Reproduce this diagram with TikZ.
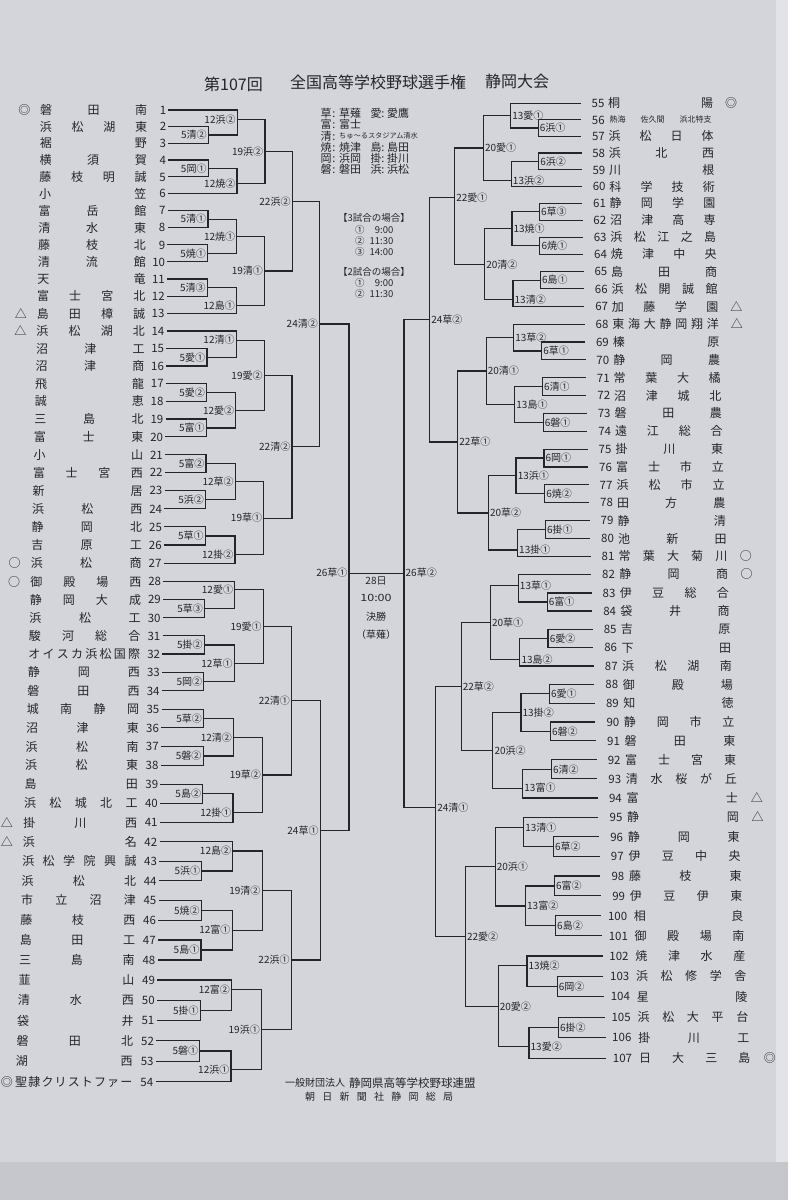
\documentclass[tikz,border=0pt]{standalone}
\usepackage{fontspec}
\usepackage{graphicx}
\setmainfont{Noto Sans CJK JP}
\usetikzlibrary{calc}
\definecolor{paper}{RGB}{212,213,218}
\definecolor{paperlight}{RGB}{226,227,231}
\definecolor{paperdark}{RGB}{198,199,204}
\definecolor{ink}{RGB}{36,36,42}
\newcommand\sprdloop[1]{\ifx\relax#1\else#1\expandafter\sprdnext\fi}
\newcommand\sprdnext[1]{\ifx\relax#1\else\hfill#1\expandafter\sprdnext\fi}
\newcommand\sprd[2]{\makebox[#1][s]{\expandafter\sprdloop#2\relax}}
% match: name, childA, childB, u, label, dy, anchor, label offset
\newcommand\mt[8]{%
  \path let \p1=(#2),\p2=(#3),\n1={(\y1+\y2)/2+(#6)},\n2={X(#4,0-(\n1))} in
    coordinate (#1) at (\n2,\n1)
    node[lbl,anchor=#7] at ({\n2+(#8)},\n1) {#5};
  \draw[br] let \p1=(#2),\p2=(#3),\p3=(#1) in (#2) -- (\x3,\y1) -- (\x3,\y2) -- (#3);
}
\newcommand\mL[6]{\mt{#1}{#2}{#3}{#4}{#5}{#6}{east}{-1.5}}
\newcommand\mR[6]{\mt{#1}{#2}{#3}{#4}{#5}{#6}{west}{1.5}}
\tikzset{
  br/.style={draw=ink,line width=1.2pt,line join=miter},
  lbl/.style={font=\fontsize{10}{10}\selectfont,text=ink,inner sep=0pt,text height=7.6pt,text depth=0pt},
  num/.style={font=\fontsize{11.5}{11.5}\selectfont,text=ink,inner sep=0pt,text height=8.6pt,text depth=0pt},
  nm/.style={font=\fontsize{12}{12}\selectfont,text=ink,inner sep=0pt,text height=9.1pt,text depth=0pt},
  tiny/.style={font=\fontsize{8}{8}\selectfont,text=ink,inner sep=0pt,text height=6.1pt,text depth=0pt},
  lg/.style={font=\fontsize{11}{11}\selectfont,text=ink,inner sep=0pt,text height=8.4pt,text depth=0pt},
  lgs/.style={font=\fontsize{7.2}{7.2}\selectfont,text=ink,inner sep=0pt,text height=5.5pt,text depth=0pt},
  sm/.style={font=\fontsize{9.5}{9.5}\selectfont,text=ink,inner sep=0pt,text height=7.2pt,text depth=0pt},
  fin/.style={font=\fontsize{10}{10}\selectfont,text=ink,inner sep=0pt,text height=7.6pt,text depth=0pt},
  ttl/.style={font=\fontsize{16}{16}\selectfont,text=ink,inner sep=0pt,text height=12.2pt,text depth=0pt},
  fta/.style={font=\fontsize{10}{10}\selectfont,text=ink,inner sep=0pt,text height=7.6pt,text depth=0pt},
  ftb/.style={font=\fontsize{11.5}{11.5}\selectfont,text=ink,inner sep=0pt,text height=8.7pt,text depth=0pt},
}
\begin{document}
\begin{tikzpicture}[x=1pt,y=1pt,
  declare function={
    kf(\qa)=0.094*(max(\qa-100,0.5)/980)^1.3;
    X(\qa,\qb)=\qa+(\qa-305)*kf(\qb);
    YL(\qa)=93.46+16.506*\qa+0.03323*\qa*\qa-3.5*max(0,sin(180*(\qa-28)/26))*(\qa>28);
    YR(\qa)=86.88+16.386*\qa+0.03665*\qa*\qa+2*max(0,sin(180*(\qa-12)/16))*(\qa<28)-3*max(0,sin(180*(\qa-29)/24))*(\qa>29);
  }]
\useasboundingbox (0,0) rectangle (788,-1200);
\fill[paper] (0,0) rectangle (788,-1200);
\fill[paperlight] (776,0) rectangle (788,-1162);
\fill[paperdark] (0,-1162) rectangle (788,-1200);

% ---------- title ----------
\node[ttl,anchor=west] (t1) at (204,-84) {第107回};
\node[ttl,anchor=west] (t2) at (290,-82.7) {全国高等学校野球選手権};
\node[ttl,anchor=west] (t3) at (485,-81.2) {静岡大会};

% ---------- left teams ----------
\foreach \i/\tNm/\tSy in {1/磐田南/◎,2/浜松湖東/{},3/裾野/{},4/横須賀/{},5/藤枝明誠/{},6/小笠/{},7/富岳館/{},8/清水東/{},9/藤枝北/{},10/清流館/{},11/天竜/{},12/富士宮北/{},13/島田樟誠/△,14/浜松湖北/△,15/沼津工/{},16/沼津商/{},17/飛龍/{},18/誠恵/{},19/三島北/{},20/富士東/{},21/小山/{},22/富士宮西/{},23/新居/{},24/浜松西/{},25/静岡北/{},26/吉原工/{},27/浜松商/○,28/御殿場西/○,29/静岡大成/{},30/浜松工/{},31/駿河総合/{},32/オイスカ浜松国際/{},33/静岡西/{},34/磐田西/{},35/城南静岡/{},36/沼津東/{},37/浜松南/{},38/浜松東/{},39/島田/{},40/浜松城北工/{},41/掛川西/△,42/浜名/△,43/浜松学院興誠/{},44/浜松北/{},45/市立沼津/{},46/藤枝西/{},47/島田工/{},48/三島南/{},49/韮山/{},50/清水西/{},51/袋井/{},52/磐田北/{},53/湖西/{},54/聖隷クリストファー/◎}{
  \pgfmathsetmacro\tY{YL(\i)}
  \pgfmathsetmacro\tXa{X(168.5,\tY)}
  \coordinate (L\i) at (\tXa,-\tY);
  \pgfmathsetmacro\tXb{X(166.5,\tY)}
  \node[num,anchor=east] (nL\i) at (\tXb,-\tY) {\i};
  \pgfmathsetmacro\tXl{X(40,\tY)}
  \pgfmathsetmacro\tW{X(147,\tY)-\tXl}
  \node[nm,anchor=west] (sL\i) at (\tXl,-\tY) {\sprd{\tW pt}{\tNm}};
  \pgfmathsetmacro\tXs{max(X(24.5,\tY),7)}
  \node[nm] (yL\i) at (\tXs,-\tY) {\tSy};
}

% ---------- right teams ----------
\foreach \k/\tNm/\tSy in {55/桐陽/◎,57/浜松日体/{},58/浜北西/{},59/川根/{},60/科学技術/{},61/静岡学園/{},62/沼津高専/{},63/浜松江之島/{},64/焼津中央/{},65/島田商/{},66/浜松開誠館/{},67/加藤学園/△,68/東海大静岡翔洋/△,69/榛原/{},70/静岡農/{},71/常葉大橘/{},72/沼津城北/{},73/磐田農/{},74/遠江総合/{},75/掛川東/{},76/富士市立/{},77/浜松市立/{},78/田方農/{},79/静清/{},80/池新田/{},81/常葉大菊川/○,82/静岡商/○,83/伊豆総合/{},84/袋井商/{},85/吉原/{},86/下田/{},87/浜松湖南/{},88/御殿場/{},89/知徳/{},90/静岡市立/{},91/磐田東/{},92/富士宮東/{},93/清水桜が丘/{},94/富士/△,95/静岡/△,96/静岡東/{},97/伊豆中央/{},98/藤枝東/{},99/伊豆伊東/{},100/相良/{},101/御殿場南/{},102/焼津水産/{},103/浜松修学舎/{},104/星陵/{},105/浜松大平台/{},106/掛川工/{},107/日大三島/◎}{
  \pgfmathsetmacro\tY{YR(\k-54)}
  \ifnum\k>99 \def\tNx{587}\def\tLx{611}\else\def\tNx{591.5}\def\tLx{608}\fi
  \pgfmathsetmacro\tXa{X(581,\tY)}
  \coordinate (R\k) at (\tXa,-\tY);
  \pgfmathsetmacro\tXb{X(\tNx,\tY)}
  \node[num,anchor=west] (nR\k) at (\tXb,-\tY) {\k};
  \pgfmathsetmacro\tXl{X(\tLx,\tY)}
  \pgfmathsetmacro\tW{X(713,\tY)-\tXl}
  \node[nm,anchor=west] (sR\k) at (\tXl,-\tY) {\sprd{\tW pt}{\tNm}};
  \pgfmathsetmacro\tXs{X(731,\tY)}
  \node[nm] (yR\k) at (\tXs,-\tY) {\tSy};
}
% row 56 (combined team)
\pgfmathsetmacro\tY{YR(2)}
\pgfmathsetmacro\tXa{X(581,\tY)}
\coordinate (R56) at (\tXa,-\tY);
\pgfmathsetmacro\tXb{X(591.5,\tY)}
\node[num,anchor=west] (nR56) at (\tXb,-\tY) {56};
\node[tiny,anchor=west] (sR56) at (609.5,-\tY) {\makebox[102pt][s]{熱海\hfill 佐久間\hfill 浜北特支}};

% ---------- left bracket ----------
\mL{a1}{L2}{L3}{208.5}{5清②}{0}
\mL{a2}{L1}{a1}{237.3}{12浜②}{3}
\mL{a3}{L4}{L5}{208.5}{5岡①}{0}
\mL{a4}{a3}{L6}{237.3}{12焼②}{-2.5}
\mL{a5}{a2}{a4}{265}{19浜②}{0}
\mL{a6}{L7}{L8}{208.5}{5清①}{0}
\mL{a7}{L9}{L10}{208.5}{5焼①}{0}
\mL{a8}{a6}{a7}{237.3}{12焼①}{0}
\mL{a9}{L11}{L12}{208.5}{5清③}{0}
\mL{a10}{a9}{L13}{237.3}{12島①}{-5}
\mL{a11}{a8}{a10}{265}{19清①}{0}
\mL{a12}{a5}{a11}{292.3}{22浜②}{10}
\mL{b1}{L15}{L16}{208.5}{5愛①}{0}
\mL{b2}{L14}{b1}{237.3}{12清①}{4}
\mL{b3}{L17}{L18}{208.5}{5愛②}{0}
\mL{b4}{L19}{L20}{208.5}{5富①}{0}
\mL{b5}{b3}{b4}{237.3}{12愛②}{0}
\mL{b6}{b2}{b5}{265}{19愛②}{0}
\mL{b7}{L21}{L22}{208.5}{5富②}{0}
\mL{b8}{L23}{L24}{208.5}{5浜②}{0}
\mL{b9}{b7}{b8}{237.3}{12草②}{0}
\mL{b10}{L25}{L26}{208.5}{5草①}{0}
\mL{b11}{b10}{L27}{237.3}{12掛②}{-5}
\mL{b12}{b9}{b11}{265}{19草①}{0}
\mL{b13}{b6}{b12}{292.3}{22清②}{0}
\mL{b14}{a12}{b13}{319.3}{24清②}{0}
\mL{c1}{L29}{L30}{208.5}{5草③}{0}
\mL{c2}{L28}{c1}{237.3}{12愛①}{5.5}
\mL{c3}{L31}{L32}{208.5}{5掛②}{0}
\mL{c4}{L33}{L34}{208.5}{5岡②}{0}
\mL{c5}{c3}{c4}{237.3}{12草①}{0}
\mL{c6}{c2}{c5}{265}{19愛①}{0}
\mL{c7}{L35}{L36}{208.5}{5草②}{0}
\mL{c8}{L37}{L38}{208.5}{5磐②}{0}
\mL{c9}{c7}{c8}{237.3}{12清②}{0}
\mL{c10}{L39}{L40}{208.5}{5島②}{0}
\mL{c11}{c10}{L41}{237.3}{12掛①}{-4.5}
\mL{c12}{c9}{c11}{265}{19草②}{0}
\mL{c13}{c6}{c12}{292.3}{22清①}{0}
\mL{d1}{L43}{L44}{208.5}{5浜①}{0}
\mL{d2}{L42}{d1}{237.3}{12島②}{5.5}
\mL{d3}{L45}{L46}{208.5}{5焼②}{0}
\mL{d4}{L47}{L48}{208.5}{5島①}{0}
\mL{d5}{d3}{d4}{237.3}{12富①}{0}
\mL{d6}{d2}{d5}{265}{19清②}{0}
\mL{d7}{L50}{L51}{208.5}{5掛①}{0}
\mL{d8}{L49}{d7}{237.3}{12富②}{6}
\mL{d9}{L52}{L53}{208.5}{5磐①}{0}
\mL{d10}{d9}{L54}{237.3}{12浜①}{-3}
\mL{d11}{d8}{d10}{265}{19浜①}{0}
\mL{d12}{d6}{d11}{292.3}{22浜①}{0}
\mL{d13}{c13}{d12}{319.3}{24草①}{0}
\mL{f1}{b14}{d13}{347.5}{26草①}{4}

% ---------- right bracket ----------
\mR{e1}{R56}{R57}{538}{6浜①}{0}
\mR{e2}{R55}{e1}{510.5}{13愛①}{0}
\mR{e3}{R58}{R59}{538}{6浜②}{0}
\mR{e4}{e3}{R60}{510.5}{13浜②}{-6.5}
\mR{e5}{e2}{e4}{483}{20愛①}{0}
\mR{e6}{R61}{R62}{538}{6草③}{0}
\mR{e7}{R63}{R64}{538}{6焼①}{0}
\mR{e8}{e6}{e7}{510.5}{13焼①}{0}
\mR{e9}{R65}{R66}{538}{6島①}{0}
\mR{e10}{e9}{R67}{510.5}{13清②}{-6.5}
\mR{e11}{e8}{e10}{483}{20清②}{0}
\mR{e12}{e5}{e11}{454}{22愛①}{9}
\mR{g1}{R69}{R70}{538}{6草①}{0}
\mR{g2}{R68}{g1}{510.5}{13草②}{0}
\mR{g3}{R71}{R72}{538}{6清①}{0}
\mR{g4}{R73}{R74}{538}{6磐①}{0}
\mR{g5}{g3}{g4}{510.5}{13島①}{0}
\mR{g6}{g2}{g5}{483}{20清①}{0}
\mR{g7}{R75}{R76}{538}{6岡①}{0}
\mR{g8}{R77}{R78}{538}{6焼②}{0}
\mR{g9}{g7}{g8}{510.5}{13浜①}{0}
\mR{g10}{R79}{R80}{538}{6掛①}{0}
\mR{g11}{g10}{R81}{510.5}{13掛①}{-7}
\mR{g12}{g9}{g11}{483}{20草②}{0}
\mR{g13}{g6}{g12}{454}{22草①}{0}
\mR{g14}{e12}{g13}{428}{24草②}{0}
\mR{h1}{R83}{R84}{538}{6富①}{0}
\mR{h2}{R82}{h1}{510.5}{13草①}{2.5}
\mR{h3}{R85}{R86}{538}{6愛②}{0}
\mR{h4}{h3}{R87}{510.5}{13島②}{-7}
\mR{h5}{h2}{h4}{483}{20草①}{0}
\mR{h6}{R88}{R89}{538}{6愛①}{0}
\mR{h7}{R90}{R91}{538}{6磐②}{0}
\mR{h8}{h6}{h7}{510.5}{13掛②}{0}
\mR{h9}{R92}{R93}{538}{6清②}{0}
\mR{h10}{h9}{R94}{510.5}{13富①}{-4.5}
\mR{h11}{h8}{h10}{483}{20浜②}{0}
\mR{h12}{h5}{h11}{454}{22草②}{0}
\mR{k1}{R96}{R97}{538}{6草②}{0}
\mR{k2}{R95}{k1}{510.5}{13清①}{4.5}
\mR{k3}{R98}{R99}{538}{6富②}{0}
\mR{k4}{R100}{R101}{538}{6島②}{0}
\mR{k5}{k3}{k4}{510.5}{13富②}{0}
\mR{k6}{k2}{k5}{483}{20浜①}{0}
\mR{k7}{R103}{R104}{538}{6岡②}{0}
\mR{k8}{R102}{k7}{510.5}{13焼②}{5.5}
\mR{k9}{R105}{R106}{538}{6掛②}{0}
\mR{k10}{k9}{R107}{510.5}{13愛②}{-4}
\mR{k11}{k8}{k10}{483}{20愛②}{0}
\mR{k12}{k6}{k11}{454}{22愛②}{0}
\mR{k13}{h12}{k12}{428}{24清①}{4}

% ---------- final ----------
\path let \p3=(f1),\n1={X(400.5,0-(\y3))} in
  coordinate (f2) at (\n1,\y3)
  node[lbl,anchor=west] (lf2) at ({\n1+1.5},\y3) {26草②};
\draw[br] let \p1=(g14),\p2=(k13),\p3=(f2) in (g14) -- (\x3,\y1) -- (\x3,\y2) -- (k13);
\draw[br] (f1) -- (f2);
\node[fin] (q1) at (376,-581) {28日};
\node[fin] (q2) at (376,-598) {\scalebox{1.25}[1]{10:00}};
\node[fin] (q3) at (376,-617) {決勝};
\node[fin] (q4) at (376,-634.5) {（草薙）};

% ---------- legend ----------
\node[lg,anchor=west] (k1a) at (320.5,-113.3) {草};
\node[lg] (k1b) at (334,-113.3) {:};
\node[lg,anchor=west] (k1c) at (339,-113.3) {草薙};
\node[lg,anchor=west] (k1d) at (370.5,-113.3) {愛};
\node[lg] (k1e) at (383,-113.3) {:};
\node[lg,anchor=west] (k1f) at (387,-113.3) {愛鷹};
\node[lg,anchor=west] (k2a) at (320.5,-124.3) {富};
\node[lg] (k2b) at (334,-124.3) {:};
\node[lg,anchor=west] (k2c) at (339,-124.3) {富士};
\node[lg,anchor=west] (k3a) at (320.5,-135.8) {清};
\node[lg] (k3b) at (334,-135.8) {:};
\node[lgs,anchor=west] (k3c) at (339,-135.8) {ちゅ～るスタジアム清水};
\node[lg,anchor=west] (k4a) at (320.5,-147.3) {焼};
\node[lg] (k4b) at (334,-147.3) {:};
\node[lg,anchor=west] (k4c) at (339,-147.3) {焼津};
\node[lg,anchor=west] (k4d) at (370.5,-147.3) {島};
\node[lg] (k4e) at (383,-147.3) {:};
\node[lg,anchor=west] (k4f) at (387,-147.3) {島田};
\node[lg,anchor=west] (k5a) at (320.5,-158.3) {岡};
\node[lg] (k5b) at (334,-158.3) {:};
\node[lg,anchor=west] (k5c) at (339,-158.3) {浜岡};
\node[lg,anchor=west] (k5d) at (370.5,-158.3) {掛};
\node[lg] (k5e) at (383,-158.3) {:};
\node[lg,anchor=west] (k5f) at (387,-158.3) {掛川};
\node[lg,anchor=west] (k6a) at (320.5,-169.3) {磐};
\node[lg] (k6b) at (334,-169.3) {:};
\node[lg,anchor=west] (k6c) at (339,-169.3) {磐田};
\node[lg,anchor=west] (k6d) at (370.5,-169.3) {浜};
\node[lg] (k6e) at (383,-169.3) {:};
\node[lg,anchor=west] (k6f) at (387,-169.3) {浜松};

% ---------- schedule ----------
\node[sm] (s1) at (374,-217.5) {【3試合の場合】};
\node[sm,anchor=west] (s2a) at (355,-229.5) {①};
\node[sm,anchor=east] (s2b) at (393.5,-229.5) {9:00};
\node[sm,anchor=west] (s3a) at (355,-240.7) {②};
\node[sm,anchor=east] (s3b) at (393.5,-240.7) {11:30};
\node[sm,anchor=west] (s4a) at (355,-252) {③};
\node[sm,anchor=east] (s4b) at (393.5,-252) {14:00};
\node[sm] (s5) at (374,-271.5) {【2試合の場合】};
\node[sm,anchor=west] (s6a) at (355,-282.7) {①};
\node[sm,anchor=east] (s6b) at (393.5,-282.7) {9:00};
\node[sm,anchor=west] (s7a) at (355,-293.8) {②};
\node[sm,anchor=east] (s7b) at (393.5,-293.8) {11:30};

% ---------- footer ----------
\node[fta,anchor=west] (ft1) at (285,-1082.7) {一般財団法人};
\node[ftb,anchor=west] (ft2) at (349,-1082.7) {静岡県高等学校野球連盟};
\node[fta,anchor=west] (ft3) at (305,-1096.7) {\sprd{148pt}{朝日新聞社静岡総局}};
\end{tikzpicture}
\end{document}
